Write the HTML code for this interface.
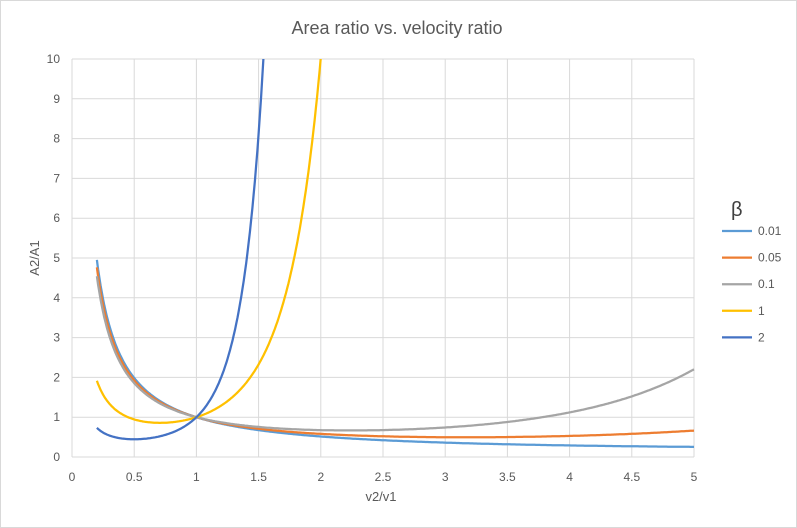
<!DOCTYPE html>
<html><head><meta charset="utf-8"><style>
body{margin:0;background:#fff}
svg{display:block;font-family:"Liberation Sans",sans-serif}
</style></head><body>
<svg id="c" width="797" height="528" viewBox="0 0 797 528">
<rect x="0.5" y="0.5" width="796" height="527" fill="#fff" stroke="#d9d9d9"/>
<text x="397" y="34" font-size="18" fill="#595959" text-anchor="middle">Area ratio vs. velocity ratio</text>
<g id="grid" stroke="#d9d9d9" stroke-width="1"></g>
<g id="ylab" font-size="12" fill="#595959" text-anchor="end"></g>
<g id="xlab" font-size="12" fill="#595959" text-anchor="middle"></g>
<text x="381" y="501" font-size="13" fill="#595959" text-anchor="middle">v2/v1</text>
<text transform="translate(39,258) rotate(-90)" font-size="13" fill="#595959" text-anchor="middle">A2/A1</text>
<defs><clipPath id="cp"><rect x="60" y="59" width="640" height="400"/></clipPath></defs>
<g id="lines" clip-path="url(#cp)" fill="none" stroke-width="2.25" stroke-linejoin="round"></g>
<text x="731" y="216" font-size="20" fill="#404040">β</text>
<g id="leg" font-size="12" fill="#595959"></g>
</svg>
<script>
var X0=72,XS=124.4,Y0=457,YS=39.8,ns="http://www.w3.org/2000/svg";
function el(t,a,p,txt){var e=document.createElementNS(ns,t);for(var k in a)e.setAttribute(k,a[k]);if(txt!=null)e.textContent=txt;document.getElementById(p).appendChild(e);}
for(var i=0;i<=10;i++){var y=Y0-i*YS;el("line",{x1:X0,x2:X0+5*XS,y1:y,y2:y},"grid");el("text",{x:60,y:y+4},"ylab",i);}
for(var j=0;j<=10;j++){var x=X0+j*0.5*XS;el("line",{x1:x,x2:x,y1:Y0-10*YS,y2:Y0},"grid");el("text",{x:x,y:481},"xlab",j/2);}
var S=[[0.01,"#5B9BD5"],[0.05,"#ED7D31"],[0.1,"#A5A5A5"],[1,"#FFC000"],[2,"#4472C4"]];
S.forEach(function(s,k){var d="";for(var n=20;n<=500;n++){var r=n/100,v=Math.exp(s[0]*(r*r-1))/r;if(v>40)v=40;d+=(n==20?"M":"L")+(X0+r*XS).toFixed(1)+","+(Y0-v*YS).toFixed(1);}
el("path",{d:d,stroke:s[1]},"lines");var ly=231+k*26.6;el("line",{x1:722,x2:752,y1:ly,y2:ly,stroke:s[1],"stroke-width":2.25},"leg");el("text",{x:758,y:ly+4},"leg",s[0]);});
</script>
</body></html>
